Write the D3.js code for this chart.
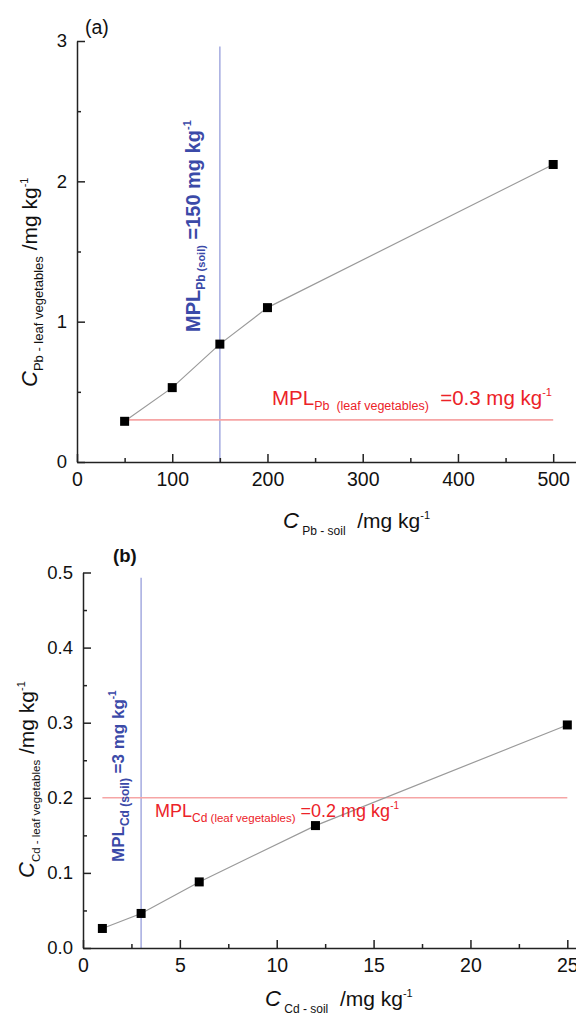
<!DOCTYPE html>
<html>
<head>
<meta charset="utf-8">
<script src="https://cdn.jsdelivr.net/npm/d3@7"></script>
<style>
  body { margin: 0; background: #fff; }
  text { font-family: Arial, "Liberation Sans", sans-serif; white-space: pre; }
</style>
</head>
<body>
<div id="chart"></div>
<script>
var
    width = 576,
    height = 1015;

// panel (a) - Pb
var pbSoil = [50, 100, 150, 200, 500];
var pbLeaf = [0.29, 0.53, 0.84, 1.10, 2.12];
var pbXTicks = [0, 100, 200, 300, 400, 500];
var pbXMinor = [50, 150, 250, 350, 450];
var pbYTicks = [0, 1, 2, 3];
var pbYMinor = [0.5, 1.5, 2.5];
var pbSoilLimit = 150, pbSoilLimitTop = 2.96;
var pbLeafLimit = 0.3, pbLeafLimitRange = [50, 500];

// panel (b) - Cd
var cdSoil = [1, 3, 6, 12, 25];
var cdLeaf = [0.026, 0.046, 0.088, 0.163, 0.297];
var cdXTicks = [0, 5, 10, 15, 20, 25];
var cdXMinor = [2.5, 7.5, 12.5, 17.5, 22.5];
var cdYTicks = [0, 0.1, 0.2, 0.3, 0.4, 0.5];
var cdYMinor = [0.05, 0.15, 0.25, 0.35, 0.45];
var cdSoilLimit = 3, cdSoilLimitTop = 0.493;
var cdLeafLimit = 0.2, cdLeafLimitRange = [1, 25];

var blueText = "#3b4aa8", blueLine = "#aab0e2",
    redText = "#ec2228", redLine = "#f6a5a5";

var svg = d3.select("#chart")
        .append("svg")
        .attr("width", width)
        .attr("height", height);

// text with sub/superscripts: segs = [text, size, shift, italic]
function rich(x, y, angle, segs, fill, weight) {
  var t = svg.append("text")
      .attr("transform", "translate(" + x + "," + y + ") rotate(" + angle + ")")
      .attr("fill", fill)
      .attr("font-weight", weight || "normal");
  var prev = 0;
  segs.forEach(function(s) {
    var sh = s[2] || 0;
    t.append("tspan")
        .attr("font-size", s[1])
        .attr("dy", sh - prev)
        .attr("font-style", s[3] ? "italic" : null)
        .text(s[0]);
    prev = sh;
  });
  return t;
}

function panel(cfg) {
  var x = d3.scaleLinear().domain(cfg.xDomain).range(cfg.xRange);
  var y = d3.scaleLinear().domain(cfg.yDomain).range(cfg.yRange);
  var g = svg.append("g");

  // limit lines
  g.append("line")
      .attr("x1", x(cfg.soilLimit)).attr("x2", x(cfg.soilLimit))
      .attr("y1", y(0)).attr("y2", y(cfg.soilLimitTop))
      .attr("stroke", blueLine).attr("stroke-width", 1.6);
  g.append("line")
      .attr("x1", x(cfg.leafRange[0])).attr("x2", x(cfg.leafRange[1]))
      .attr("y1", y(cfg.leafLimit)).attr("y2", y(cfg.leafLimit))
      .attr("stroke", redLine).attr("stroke-width", 1.6);

  // axes
  var xAxis = g.append("g")
      .attr("transform", "translate(0," + y(0) + ")")
      .call(d3.axisBottom(x).tickValues(cfg.xTicks).tickSizeInner(-8).tickSizeOuter(0).tickPadding(10));
  g.append("g")
      .attr("transform", "translate(0," + y(0) + ")")
      .call(d3.axisBottom(x).tickValues(cfg.xMinor).tickSizeInner(-4).tickSizeOuter(0).tickFormat(""))
      .select(".domain").remove();
  var yAxis = g.append("g")
      .attr("transform", "translate(" + x(0) + ",0)")
      .call(d3.axisLeft(y).tickValues(cfg.yTicks).tickSizeInner(-8).tickSizeOuter(0).tickPadding(10)
            .tickFormat(cfg.yFormat));
  g.append("g")
      .attr("transform", "translate(" + x(0) + ",0)")
      .call(d3.axisLeft(y).tickValues(cfg.yMinor).tickSizeInner(-4).tickSizeOuter(0).tickFormat(""))
      .select(".domain").remove();

  g.selectAll(".domain, .tick line").attr("stroke", "#222").attr("stroke-width", 1.5);
  xAxis.selectAll("text").attr("font-size", 19.5).attr("fill", "#111")
      .attr("font-family", "Arial, 'Liberation Sans', sans-serif");
  yAxis.selectAll("text").attr("font-size", 18.5).attr("fill", "#111")
      .attr("font-family", "Arial, 'Liberation Sans', sans-serif");

  // connecting line and markers
  var pts = cfg.xs.map(function(v, i) { return [v, cfg.ys[i]]; });
  g.append("path")
      .datum(pts)
      .attr("fill", "none")
      .attr("stroke", "#9a9a9a")
      .attr("stroke-width", 1.2)
      .attr("d", d3.line().x(function(d) { return x(d[0]); }).y(function(d) { return y(d[1]); }));
  g.selectAll("rect.pt")
      .data(pts)
    .enter().append("rect")
      .attr("class", "pt")
      .attr("x", function(d) { return x(d[0]) - 4.5; })
      .attr("y", function(d) { return y(d[1]) - 4.5; })
      .attr("width", 9).attr("height", 9)
      .attr("fill", "#000");
}

panel({
  xDomain: [0, 525], xRange: [77, 577],
  yDomain: [0, 3], yRange: [462, 41],
  xs: pbSoil, ys: pbLeaf,
  xTicks: pbXTicks, xMinor: pbXMinor, yTicks: pbYTicks, yMinor: pbYMinor,
  yFormat: d3.format("d"),
  soilLimit: pbSoilLimit, soilLimitTop: pbSoilLimitTop,
  leafLimit: pbLeafLimit, leafRange: pbLeafLimitRange
});

panel({
  xDomain: [0, 25.5], xRange: [83, 577],
  yDomain: [0, 0.5], yRange: [948, 572.5],
  xs: cdSoil, ys: cdLeaf,
  xTicks: cdXTicks, xMinor: cdXMinor, yTicks: cdYTicks, yMinor: cdYMinor,
  yFormat: d3.format(".1f"),
  soilLimit: cdSoilLimit, soilLimitTop: cdSoilLimitTop,
  leafLimit: cdLeafLimit, leafRange: cdLeafLimitRange
});

// panel letters
rich(85, 34, 0, [["(a)", 19.5]], "#111");
rich(113, 562, 0, [["(b)", 18.5]], "#111", "bold");

// axis titles (a)
rich(283, 528, 0, [["C", 22, 0, true], [" Pb - soil", 12, 7], ["  /mg kg", 21, 0], ["-1", 11, -9]], "#111");
rich(37, 387, -90, [["C", 22, 0, true], ["Pb - leaf vegetables", 13, 6], [" /mg kg", 21, 0], ["-1", 11, -9]], "#111");

// axis titles (b)
rich(265, 1006, 0, [["C", 22, 0, true], [" Cd - soil", 12, 7], ["  /mg kg", 21, 0], ["-1", 11, -9]], "#111");
rich(34, 878, -90, [["C", 22, 0, true], ["Cd - leaf vegetables", 11.5, 6], [" /mg kg", 21, 0], ["-1", 11, -9]], "#111");

// limit labels (a)
rich(272, 405, 0, [["MPL", 20.5], ["Pb", 12.5, 5], ["  (leaf vegetables)", 12.5, 5], ["  =0.3 mg kg", 20.5, 0], ["-1", 11, -9]], redText);
rich(200, 332, -90, [["MPL", 20], ["Pb", 12, 5], [" (soil)", 11, 5], [" =150 mg kg", 20, 0], ["-1", 11, -9]], blueText, "bold");

// limit labels (b)
rich(155, 817, 0, [["MPL", 18], ["Cd", 12, 5], [" (leaf vegetables)", 11.5, 5], [" =0.2 mg kg", 18, 0], ["-1", 10, -8]], redText);
rich(124, 862, -90, [["MPL", 17], ["Cd", 12, 5], [" (soil)", 12, 5], [" =3 mg kg", 17, 0], ["-1", 10, -8]], blueText, "bold");
</script>
</body>
</html>
